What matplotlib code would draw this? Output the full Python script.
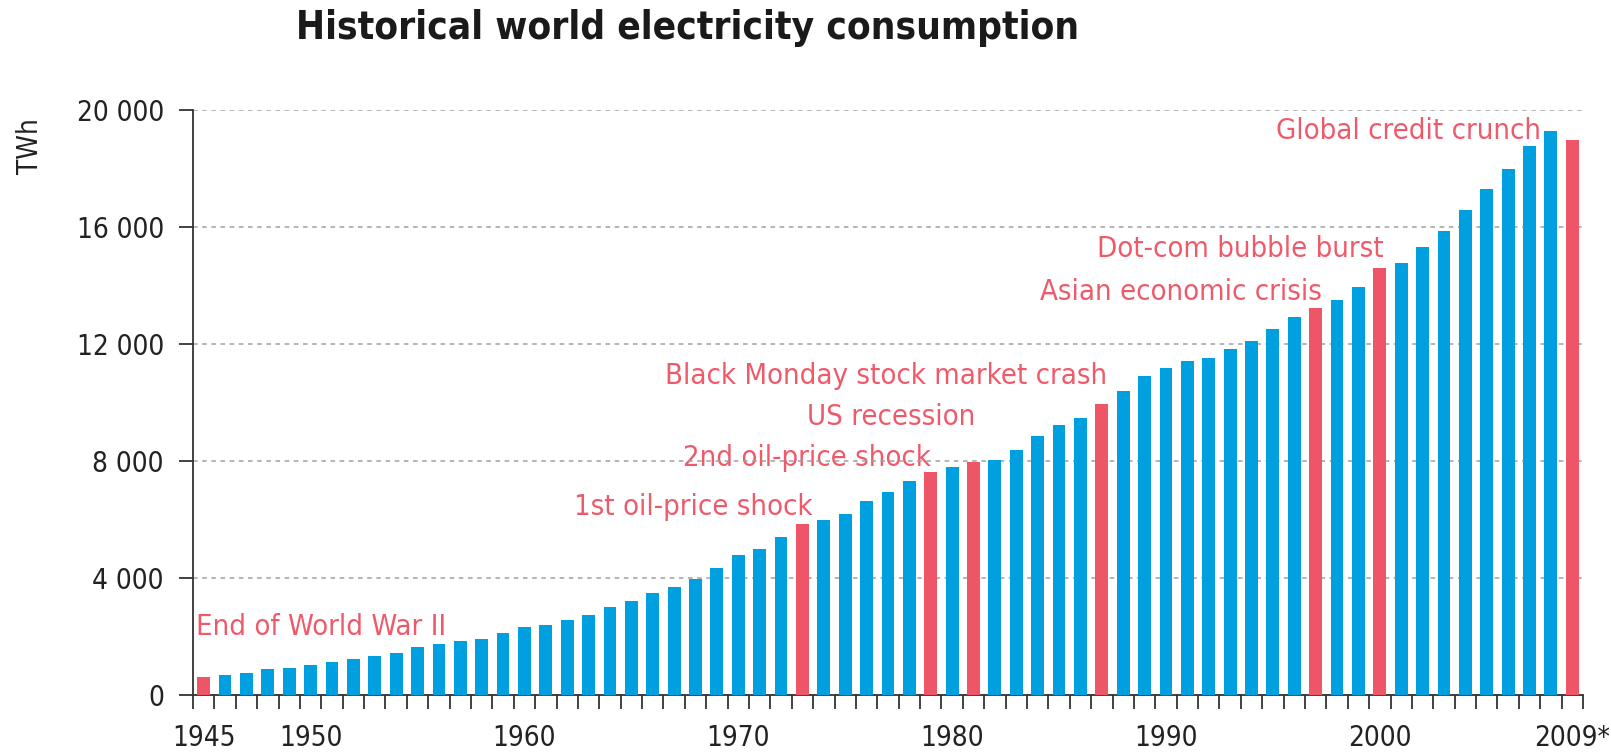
import os
import numpy as np
import matplotlib
matplotlib.use("Agg")
import matplotlib.pyplot as plt
from matplotlib import font_manager
from matplotlib.font_manager import FontProperties
from matplotlib.ticker import FuncFormatter

# world electricity consumption, TWh
years = list(range(1945, 2010))
twh = [620, 690, 760, 880, 910, 1020, 1140, 1220, 1350, 1420,
       1630, 1760, 1850, 1920, 2120, 2320, 2380, 2550, 2730, 3010,
       3230, 3480, 3680, 3970, 4340, 4770, 4980, 5400, 5860, 5990,
       6190, 6640, 6950, 7330, 7640, 7800, 7980, 8050, 8390, 8850,
       9220, 9480, 9950, 10400, 10910, 11190, 11420, 11520, 11820, 12120,
       12520, 12930, 13240, 13510, 13940, 14610, 14760, 15300, 15870, 16590,
       17310, 17980, 18780, 19270, 18990]
crisis_years = [1945, 1973, 1979, 1981, 1987, 1997, 2000, 2009]

# annotation text, x anchor (year), y (TWh), alignment
events = [
    ("End of World War II", 1944.65, 2320, "left"),
    ("1st oil-price shock", 1973.45, 6430, "right"),
    ("2nd oil-price shock", 1979.0, 8120, "right"),
    ("US recession", 1981.1, 9520, "right"),
    ("Black Monday stock market crash", 1987.25, 10920, "right"),
    ("Asian economic crisis", 1997.3, 13790, "right"),
    ("Dot-com bubble burst", 2000.2, 15260, "right"),
    ("Global credit crunch", 2007.55, 19270, "right"),
]

xlabels = {1945: "1945", 1950: "1950", 1960: "1960", 1970: "1970",
           1980: "1980", 1990: "1990", 2000: "2000", 2009: "2009*"}

blue = "#009fe0"
red = "#ee5667"
text_red = "#ef5a6b"


# look for a narrow / condensed face, the original uses a condensed sans
def find_narrow(bold):
    prefs = ["liberationsansnarrow", "dejavusanscondensed", "notosans-condensed",
             "notosanscondensed", "robotocondensed", "opensanscondensed",
             "notosans-semicondensed", "opensans-semicondensed", "notosanssemicondensed"]
    found = {}
    for f in font_manager.fontManager.ttflist:
        fn = os.path.basename(f.fname).lower()
        if "italic" in fn or "oblique" in fn:
            continue
        is_bold = "bold" in fn and "semibold" not in fn and "extrabold" not in fn
        if is_bold != bold:
            continue
        if not bold and any(w in fn for w in ["light", "thin", "medium", "black", "semibold", "extrabold"]):
            continue
        for p in prefs:
            if fn.startswith(p):
                found.setdefault(p, f.fname)
    for p in prefs:
        if p in found:
            return FontProperties(fname=found[p]), 1.0
    return FontProperties(family="Liberation Sans", weight="bold" if bold else "normal"), 0.85


fp_reg, k_reg = find_narrow(False)
fp_bold, k_bold = find_narrow(True)


def font(size, bold=False):
    fp = (fp_bold if bold else fp_reg).copy()
    fp.set_size(size * (k_bold if bold else k_reg))
    return fp


fig = plt.figure(figsize=(16.11, 7.53), dpi=100)
ax = fig.add_axes([0.1198, 0.077, 0.9826 - 0.1198, 0.8539 - 0.077])

colors = [red if y in crisis_years else blue for y in years]
ax.bar(years, twh, width=0.6, color=colors, zorder=3)

ax.set_xlim(1944.5, 2009.5)
ax.set_ylim(0, 20000)

ax.set_yticks([0, 4000, 8000, 12000, 16000, 20000])
ax.yaxis.set_major_formatter(FuncFormatter(lambda v, p: f"{int(v):,}".replace(",", " ")))
ax.grid(axis="y", color="#a0a0a0", linestyle=(0, (3, 3)), linewidth=1.1, zorder=2)

ax.set_xticks(list(xlabels.keys()))
ax.set_xticklabels(list(xlabels.values()))
ax.set_xticks(np.arange(1944.5, 2010, 1.0), minor=True)
ax.tick_params(axis="x", which="major", length=0, pad=21, colors="#222222")
ax.tick_params(axis="x", which="minor", length=10, width=1.3, direction="out", color="#333333")
ax.tick_params(axis="y", length=10, width=1.3, direction="out", pad=11,
               color="#333333", labelcolor="#222222")
for lab in ax.get_xticklabels() + ax.get_yticklabels():
    lab.set_fontproperties(font(20))

for s in ["top", "right"]:
    ax.spines[s].set_visible(False)
for s in ["left", "bottom"]:
    ax.spines[s].set_color("#333333")
    ax.spines[s].set_linewidth(1.3)

fig.text(0.0186, 0.806, "TWh", rotation=90, ha="center", va="center",
         fontproperties=font(20), color="#222222")

fig.text(0.184, 0.963, "Historical world electricity consumption", ha="left", va="center",
         fontproperties=font(27.8, bold=True), color="#1a1a1a")

for label, x, y, ha in events:
    ax.text(x, y, label, ha=ha, va="center", fontproperties=font(21), color=text_red, zorder=1)

fig.savefig("out.png", dpi=100, facecolor="white")
